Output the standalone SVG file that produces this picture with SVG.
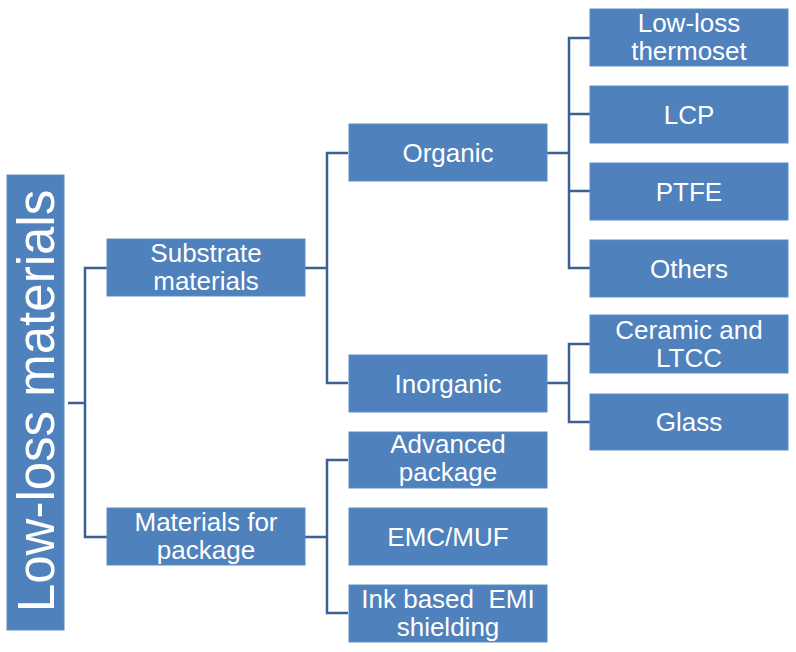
<svg xmlns="http://www.w3.org/2000/svg" width="796" height="652" viewBox="0 0 796 652">
<style>
.box{fill:#4f81bd;stroke:#5b8cc6;stroke-width:1}
.t{font-family:"Liberation Sans",Arial,sans-serif;font-size:26px;fill:#ffffff;text-anchor:middle}
.c{fill:none;stroke:#3b6190;stroke-width:2.5}
</style>
<rect width="796" height="652" fill="#ffffff"/>
<g id="connectors">
<path class="c" d="M68,403 H85 M107,268 H85 V537 H107"/>
<path class="c" d="M305,268 H327 M348,153 H327 V383 H348"/>
<path class="c" d="M305,537 H327 M348,460 H327 V613 H348"/>
<path class="c" d="M547,153 H569 M590,38 H569 V268 H590 M569,114 H590 M569,191 H590"/>
<path class="c" d="M547,383 H569 M590,344 H569 V422 H590"/>
</g>
<g id="root"><rect class="box" x="7" y="175" width="57" height="455"/><text class="t" style="font-size:51px" transform="translate(54,401) rotate(-90)">Low-loss materials</text></g>
<g id="substrate"><rect class="box" x="107" y="239" width="198" height="57"/><text class="t" x="206" y="262">Substrate</text><text class="t" x="206" y="290">materials</text></g>
<g id="package"><rect class="box" x="107" y="508" width="198" height="57"/><text class="t" x="206" y="531">Materials for</text><text class="t" x="206" y="559">package</text></g>
<g id="organic"><rect class="box" x="349" y="124" width="198" height="57"/><text class="t" x="448" y="162">Organic</text></g>
<g id="inorganic"><rect class="box" x="349" y="355" width="198" height="57"/><text class="t" x="448" y="393">Inorganic</text></g>
<g id="advanced"><rect class="box" x="349" y="432" width="198" height="56"/><text class="t" x="448" y="453">Advanced</text><text class="t" x="448" y="481">package</text></g>
<g id="emc"><rect class="box" x="349" y="508" width="198" height="57"/><text class="t" x="448" y="546">EMC/MUF</text></g>
<g id="ink"><rect class="box" x="349" y="585" width="198" height="57"/><text class="t" x="448" y="608" style="white-space:pre">Ink based  EMI</text><text class="t" x="448" y="636">shielding</text></g>
<g id="thermoset"><rect class="box" x="590" y="9" width="198" height="57"/><text class="t" x="689" y="32">Low-loss</text><text class="t" x="689" y="60">thermoset</text></g>
<g id="lcp"><rect class="box" x="590" y="86" width="198" height="57"/><text class="t" x="689" y="124">LCP</text></g>
<g id="ptfe"><rect class="box" x="590" y="163" width="198" height="57"/><text class="t" x="689" y="201">PTFE</text></g>
<g id="others"><rect class="box" x="590" y="240" width="198" height="57"/><text class="t" x="689" y="278">Others</text></g>
<g id="ceramic"><rect class="box" x="590" y="315" width="198" height="58"/><text class="t" x="689" y="339">Ceramic and</text><text class="t" x="689" y="367">LTCC</text></g>
<g id="glass"><rect class="box" x="590" y="394" width="198" height="56"/><text class="t" x="689" y="431">Glass</text></g>
</svg>
